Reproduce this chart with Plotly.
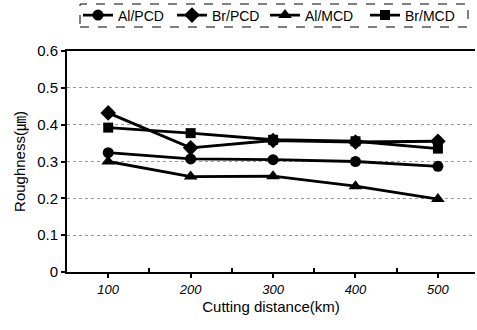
import plotly.graph_objects as go

distance = [100, 200, 300, 400, 500]
al_pcd = [0.324, 0.307, 0.305, 0.300, 0.287]
br_pcd = [0.432, 0.337, 0.357, 0.353, 0.355]
al_mcd = [0.300, 0.259, 0.260, 0.233, 0.198]
br_mcd = [0.392, 0.377, 0.359, 0.355, 0.335]

series = [
    ("Al/PCD", al_pcd, "circle", 11),
    ("Br/PCD", br_pcd, "diamond", 12),
    ("Al/MCD", al_mcd, "triangle-up", 12),
    ("Br/MCD", br_mcd, "square", 10),
]
legend_line_starts = [83, 177, 270, 370]  # px positions of legend entries

font_family = "Liberation Sans, Arial, Noto Sans CJK KR, sans-serif"
L, R, T, B = 67, 2, 51, 58
PW, PH = 477 - L - R, 330 - T - B

fig = go.Figure()
legend_layout = {}
for i, (name, vals, sym, sz) in enumerate(series):
    key = "legend" if i == 0 else f"legend{i + 1}"
    fig.add_trace(go.Scatter(
        x=distance, y=vals, name=name, mode="lines+markers",
        line=dict(color="black", width=2.8),
        marker=dict(symbol=sym, size=sz, color="black"),
        legend=key,
    ))
    legend_layout[key] = dict(
        orientation="h", x=(legend_line_starts[i] - 5 - L) / PW, xanchor="left",
        y=(272 - 15.5) / PH, yanchor="middle", yref="paper",
        font=dict(size=14), itemwidth=30,
        bgcolor="rgba(0,0,0,0)", borderwidth=0,
    )

fig.update_layout(
    width=477, height=330,
    margin=dict(l=L, r=R, t=T, b=B, autoexpand=False),
    paper_bgcolor="white", plot_bgcolor="white",
    font=dict(family=font_family, size=12, color="black"),
    showlegend=True,
    xaxis=dict(
        range=[50, 545], tickvals=distance, ticktext=[str(d) for d in distance],
        showgrid=False, zeroline=False,
        showline=True, linecolor="black", linewidth=2, mirror=True,
        ticks="outside", ticklen=4, tickwidth=1.5, tickcolor="black",
        tickfont=dict(size=13, style="italic"),
        minor=dict(tickvals=[150, 250, 350, 450], ticks="inside", ticklen=4, tickcolor="black", showgrid=False),
        title=dict(text="Cutting distance(km)", font=dict(size=15), standoff=6),
    ),
    yaxis=dict(
        range=[0, 0.6], dtick=0.1,
        showgrid=True, gridcolor="#999999", griddash="dot", gridwidth=1,
        zeroline=False,
        showline=True, linecolor="black", linewidth=2,
        ticks="outside", ticklen=4, tickwidth=1.5, tickcolor="black",
        tickfont=dict(size=15),
        title=dict(text="Roughness(㎛)", font=dict(size=15), standoff=8),
    ),
    **legend_layout,
)

fig.add_shape(
    type="rect", xref="paper", yref="paper",
    x0=(80 - L) / PW, x1=(468 - L) / PW,
    y0=(272 - 27) / PH, y1=(272 - 4) / PH,
    line=dict(color="black", width=1, dash="dash"),
)

fig.write_html("out.html", config={"displayModeBar": False},
               post_script="document.body.style.margin='0px';")
